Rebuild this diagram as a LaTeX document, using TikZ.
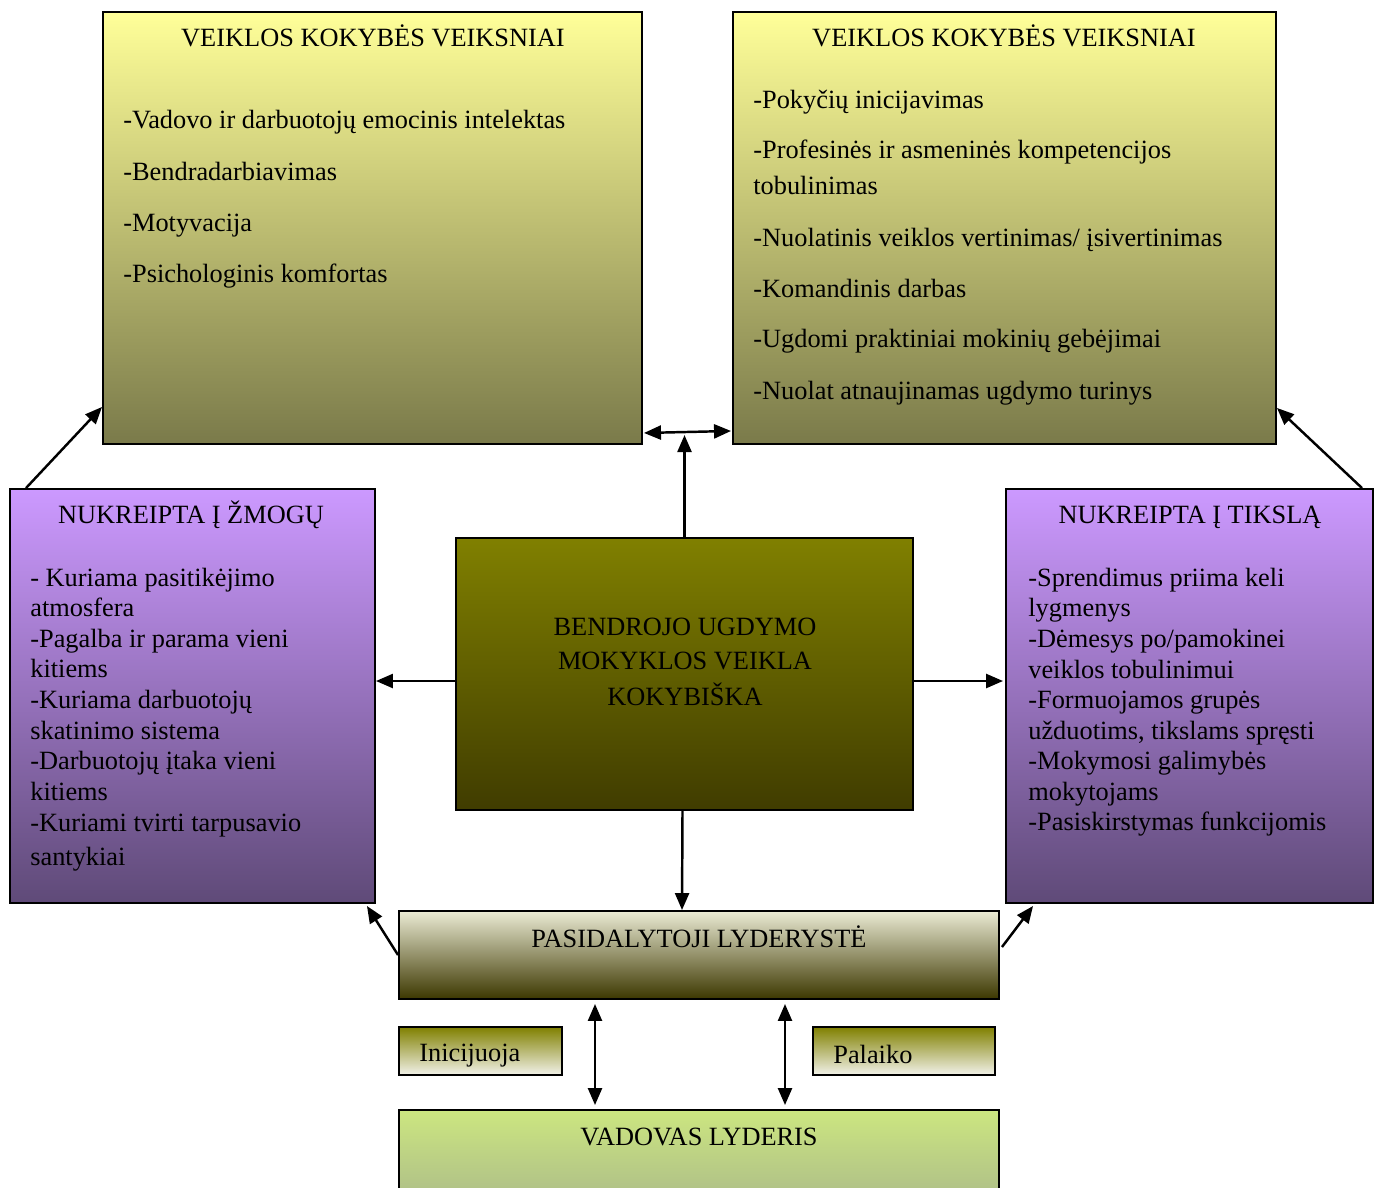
\documentclass[tikz,border=0pt]{standalone}
\usepackage{fontspec}
\setmainfont{Liberation Serif}
\usetikzlibrary{arrows.meta,calc,fit}
\newcommand\boxfont{\fontsize{15}{17.4}\selectfont}

\definecolor{yelTop}{RGB}{255,255,153}
\definecolor{yelBot}{RGB}{122,122,74}
\definecolor{purTop}{RGB}{204,153,255}
\definecolor{purBot}{RGB}{95,74,120}
\definecolor{oliveTop}{RGB}{128,128,0}
\definecolor{oliveBot}{RGB}{64,60,0}
\definecolor{sandTop}{RGB}{235,235,212}
\definecolor{sandMid}{RGB}{165,160,105}
\definecolor{sandBot}{RGB}{60,55,0}
\definecolor{tagMid}{RGB}{205,205,160}
\definecolor{tagBot}{RGB}{242,242,234}
\definecolor{greenTop}{RGB}{204,230,128}
\definecolor{greenBot}{RGB}{160,172,140}

\begin{document}
\begin{tikzpicture}[x=0.02cm,y=-0.02cm,
  box/.style={draw=black, line width=1.1pt, inner sep=0pt, rectangle},
  yelbox/.style={box, top color=yelTop, bottom color=yelBot},
  purbox/.style={box, top color=purTop, bottom color=purBot},
  corebox/.style={box, top color=oliveTop, bottom color=oliveBot},
  sharebox/.style={box, top color=sandTop, middle color=sandMid, bottom color=sandBot},
  tagbox/.style={box, top color=oliveTop, middle color=tagMid, bottom color=tagBot},
  leadbox/.style={box, top color=greenTop, bottom color=greenBot},
  txt/.style={anchor=base west, inner sep=0pt, font=\boxfont},
  ttl/.style={anchor=base, inner sep=0pt, font=\boxfont},
  arr/.style={line width=1.4pt, -{Triangle[length=0.34cm,width=0.28cm]}},
  darr/.style={line width=1.4pt, {Triangle[length=0.34cm,width=0.28cm]}-{Triangle[length=0.34cm,width=0.28cm]}}]

\useasboundingbox (0,0) rectangle (1378,1187);

% boxes
\node[yelbox, fit={(103,12)(642,444)}] (tl) {};
\node[yelbox, fit={(733,12)(1276,444)}] (tr) {};
\node[purbox, fit={(10,489)(375,903)}] (lp) {};
\node[purbox, fit={(1006,489)(1373,903)}] (rp) {};
\node[corebox, fit={(456,538)(913,810)}] (c) {};
\node[sharebox, fit={(399,911)(999,999)}] (ps) {};
\node[tagbox, fit={(399,1027)(562,1075)}] (ini) {};
\node[tagbox, fit={(813,1027)(995,1075)}] (pal) {};
\node[leadbox, fit={(399,1110)(999,1240)}] (vl) {};

% upper left box text
\node[ttl] (tlT) at (373,46) {VEIKLOS KOKYBĖS VEIKSNIAI};
\node[txt] (tl1) at (123,128) {-Vadovo ir darbuotojų emocinis intelektas};
\node[txt] (tl2) at (123,180) {-Bendradarbiavimas};
\node[txt] (tl3) at (123,231) {-Motyvacija};
\node[txt] (tl4) at (123,282) {-Psichologinis komfortas};

% upper right box text
\node[ttl] (trT) at (1004,46) {VEIKLOS KOKYBĖS VEIKSNIAI};
\node[txt] (tr1) at (753,108) {-Pokyčių inicijavimas};
\node[txt] (tr2) at (753,158) {-Profesinės ir asmeninės kompetencijos};
\node[txt] (tr3) at (753,194) {tobulinimas};
\node[txt] (tr4) at (753,246) {-Nuolatinis veiklos vertinimas/ įsivertinimas};
\node[txt] (tr5) at (753,297) {-Komandinis darbas};
\node[txt] (tr6) at (753,347) {-Ugdomi praktiniai mokinių gebėjimai};
\node[txt] (tr7) at (753,399) {-Nuolat atnaujinamas ugdymo turinys};

% left purple box text
\node[ttl] (lpT) at (191,523) {NUKREIPTA Į ŽMOGŲ};
\node[txt] (lp1) at (30,586) {- Kuriama pasitikėjimo};
\node[txt] (lp2) at (30,616) {atmosfera};
\node[txt] (lp3) at (30,647) {-Pagalba ir parama vieni};
\node[txt] (lp4) at (30,677) {kitiems};
\node[txt] (lp5) at (30,708) {-Kuriama darbuotojų};
\node[txt] (lp6) at (30,739) {skatinimo sistema};
\node[txt] (lp7) at (30,769) {-Darbuotojų įtaka vieni};
\node[txt] (lp8) at (30,800) {kitiems};
\node[txt] (lp9) at (30,831) {-Kuriami tvirti tarpusavio};
\node[txt] (lp10) at (30,865) {santykiai};

% right purple box text
\node[ttl] (rpT) at (1190,523) {NUKREIPTA Į TIKSLĄ};
\node[txt] (rp1) at (1028,586) {-Sprendimus priima keli};
\node[txt] (rp2) at (1028,616) {lygmenys};
\node[txt] (rp3) at (1028,647) {-Dėmesys po/pamokinei};
\node[txt] (rp4) at (1028,678) {veiklos tobulinimui};
\node[txt] (rp5) at (1028,708) {-Formuojamos grupės};
\node[txt] (rp6) at (1028,739) {užduotims, tikslams spręsti};
\node[txt] (rp7) at (1028,769) {-Mokymosi galimybės};
\node[txt] (rp8) at (1028,800) {mokytojams};
\node[txt] (rp9) at (1028,830) {-Pasiskirstymas funkcijomis};

% central box text
\node[ttl] (c1) at (685,635) {BENDROJO UGDYMO};
\node[ttl] (c2) at (685,669) {MOKYKLOS VEIKLA};
\node[ttl] (c3) at (685,705) {KOKYBIŠKA};

% lower boxes text
\node[ttl] (psT) at (699,947) {PASIDALYTOJI LYDERYSTĖ};
\node[txt] (iniT) at (419,1061) {Inicijuoja};
\node[txt] (palT) at (833,1063) {Palaiko};
\node[ttl] (vlT) at (699,1145) {VADOVAS LYDERIS};

% connectors
\coordinate (cup) at ($(c.north)+(0,-102)$);
\draw[arr] ($(lp.north west)+(17,0)$) -- ($(tl.south west)+(0,-38)$);
\draw[arr] ($(rp.north east)+(-12,0)$) -- ($(tr.south east)+(0,-37)$);
\draw[darr] ($(tl.south east)+(1,-12)$) -- ($(tr.south west)+(-1,-14)$);
\draw[arr] (c.north) -- (cup);
\draw[arr] ($(c.west)+(0,7)$) -- ($(lp.east)+(0,-15)$);
\draw[arr] ($(c.east)+(-2,7)$) -- ($(rp.west)+(-2,-15)$);
\draw[arr] ($(c.south)+(-2,0)$) -- ($(ps.north)+(-17,0)$);
\draw[arr] (ps.west) -- ($(lp.south east)+(-9,2)$);
\draw[arr] ($(ps.east)+(2,-8)$) -- ($(rp.south west)+(28,2)$);
\draw[darr] ($(ps.south)+(-104,4)$) -- ($(vl.north)+(-104,-4)$);
\draw[darr] ($(ps.south)+(86,4)$) -- ($(vl.north)+(86,-4)$);
\end{tikzpicture}
\end{document}
